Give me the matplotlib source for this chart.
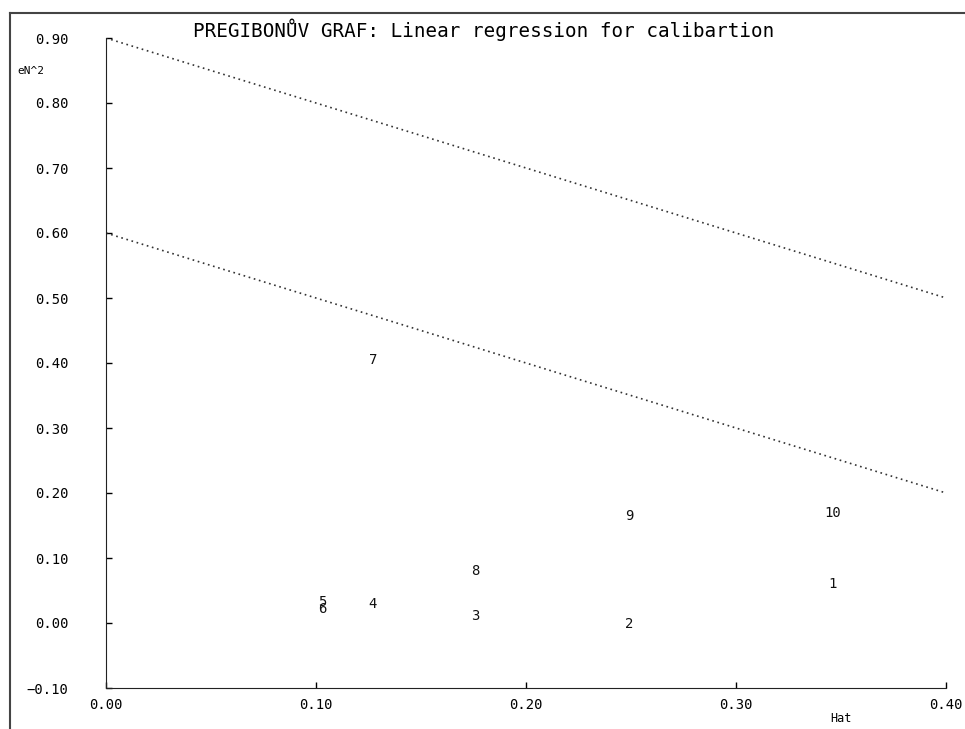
import numpy as np
import matplotlib.pyplot as plt
from matplotlib.lines import Line2D

# data
labels = ['1', '2', '3', '4', '5', '6', '7', '8', '9', '10']
hat = [0.346, 0.249, 0.176, 0.127, 0.103, 0.103, 0.127, 0.176, 0.249, 0.346]
en2 = [0.060, -0.002, 0.011, 0.029, 0.033, 0.022, 0.405, 0.080, 0.165, 0.169]

line_x = [0.0, 0.40]
upper_y = [0.90, 0.50]
lower_y = [0.60, 0.20]

xticks = [0.0, 0.10, 0.20, 0.30, 0.40]
yticks = [-0.10, 0.0, 0.10, 0.20, 0.30, 0.40, 0.50, 0.60, 0.70, 0.80, 0.90]


def fmt(t):
    return ('%.2f' % t).replace('-', '\u2212')


plt.rcParams['font.family'] = ['DejaVu Sans Mono']
W, H = 965, 729
fig = plt.figure(figsize=(W / 100, H / 100), dpi=100)
ax = fig.add_axes([106 / W, 1 - 688 / H, (946 - 106) / W, (688 - 38) / H])

ax.plot(line_x, upper_y, color='#333333', lw=1.2, ls=(0, (1, 2.2)))
ax.plot(line_x, lower_y, color='#333333', lw=1.2, ls=(0, (1, 2.2)))

for lab, x, y in zip(labels, hat, en2):
    ax.text(x, y, lab, ha='center', va='center', fontsize=10, color='#111111')

ax.set_xlim(0, 0.40)
ax.set_ylim(-0.10, 0.90)
ax.set_xticks(xticks)
ax.set_yticks(yticks)
ax.set_xticklabels([fmt(t) for t in xticks], fontsize=10)
ax.set_yticklabels([fmt(t) for t in yticks], fontsize=10)
ax.tick_params(axis='x', direction='in', length=4, pad=7, width=1)
ax.tick_params(axis='y', direction='in', length=4, pad=27, width=1)
ax.spines['top'].set_visible(False)
ax.spines['right'].set_visible(False)
ax.spines['left'].set_color('#222222')
ax.spines['bottom'].set_color('#222222')

fig.text(193 / W, 1 - 30 / H, 'PREGIBONŮV GRAF: Linear regression for calibartion',
         ha='left', va='center', fontsize=13.9)
fig.text(17 / W, 1 - 71 / H, 'eN^2', ha='left', va='center', fontsize=8)
fig.text(841 / W, 1 - 718 / H, 'Hat', ha='center', va='center', fontsize=8.5)

# outer frame (only top and left edges visible)
fig.add_artist(Line2D([10 / W, 1], [1 - 13 / H, 1 - 13 / H], color='#444444', lw=1.5))
fig.add_artist(Line2D([10 / W, 10 / W], [0, 1 - 13 / H], color='#444444', lw=1.5))

plt.savefig('out.png', dpi=100)
